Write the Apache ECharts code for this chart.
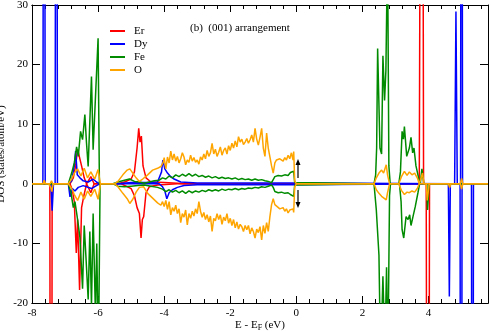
<!DOCTYPE html>
<html>
<head>
<meta charset="utf-8">
<script src="https://cdn.jsdelivr.net/npm/echarts@6/dist/echarts.min.js"></script>
<style>
  html, body { margin: 0; padding: 0; background: #fff; }
  #chart { width: 491px; height: 332px; }
</style>
</head>
<body>
<div id="chart"></div>
<script>
// species shown in the legend
const species = ['Er', 'Dy', 'Fe', 'O'];
const colors = ['#ff0000', '#0000ff', '#008b00', '#ffa500'];

const xTicks = [-8, -6, -4, -2, 0, 2, 4];
const yTicks = [-20, -10, 0, 10, 20, 30];

// [E - EF (eV), DOS] pairs, spin up (positive) and spin down (negative)
const erUp = [[-8,0],[-6.85,0],[-6.75,1],[-6.68,3],[-6.62,5.8],[-6.57,5.5],[-6.5,3],[-6.42,1],[-6.35,0],[-6.22,1.2],[-6.12,0],
  [-5.4,0],[-5.2,0.3],[-5.0,0.8],[-4.9,2],[-4.82,6],[-4.77,9.3],[-4.73,7],[-4.69,8],[-4.64,3],[-4.55,1],[-4.4,0.3],[-4.0,0.2],[-3.6,0.1],[-3.4,0],
  [3.72,0],[3.8,150],[3.85,0],[5.8,0]];
const erDn = [[-8,0],[-7.46,0],[-7.425,-150],[-7.39,0],[-6.85,0],[-6.78,-1],[-6.72,-3],[-6.66,-11.6],[-6.62,-6],[-6.56,-17.8],[-6.5,-4],[-6.43,-2],[-6.35,0],[-6.22,-1.5],[-6.12,0],
  [-5.3,0],[-5.0,-0.8],[-4.9,-2],[-4.82,-4],[-4.75,-5],[-4.7,-9.1],[-4.66,-6],[-4.62,-5.5],[-4.55,-1.5],[-4.45,-0.5],[-4.2,-0.2],[-3.6,0],
  [3.93,0],[3.985,-150],[4.03,0],[5.8,0]];
const dyUp = [[-8,0],[-7.67,0],[-7.635,150],[-7.6,0],[-7.3,0],[-7.265,150],[-7.23,0],[-6.9,0],[-6.8,0.5],[-6.72,3],[-6.68,5.5],[-6.63,1.5],[-6.55,1],[-6.45,0.5],[-6.3,0.3],[-6.15,0.8],[-6.05,0.3],[-5.95,0],
  [-5.4,0],[-5.0,0.2],[-4.5,0.2],[-4.2,0.3],[-4.08,2],[-4.04,4],[-3.98,2.5],[-3.9,1.8],[-3.8,1.2],[-3.7,0.8],[-3.5,0.3],[-3.0,0.15],[-0.05,0.15],[0,0],
  [4.79,0],[4.83,28.9],[4.87,0],[4.97,0],[5.0,150],[5.03,0],[5.8,0]];
const dyDn = [[-8,0],[-7.43,0],[-7.39,-4.5],[-7.35,0],[-6.9,0],[-6.85,-2.2],[-6.78,-0.8],[-6.7,-1.2],[-6.6,-0.6],[-6.45,-0.3],[-6.2,-0.8],[-6.05,-0.3],[-5.95,0],
  [-4.15,0],[-4.05,-0.5],[-3.98,-1.2],[-3.92,-2.5],[-3.85,-1.5],[-3.75,-1],[-3.6,-0.6],[-3.4,-0.3],[-3.0,-0.15],[-0.05,-0.15],[0,0],
  [4.6,0],[4.63,-18.9],[4.66,0],[4.955,0],[4.985,-150],[5.015,0],[5.3,0],[5.33,-150],[5.36,0],[5.8,0]];
const feUp = [[-8,0],[-6.9,0],[-6.8,1.8],[-6.72,3.5],[-6.65,6.2],[-6.6,4.6],[-6.53,8.8],[-6.47,7.4],[-6.4,11.6],[-6.35,6.8],[-6.3,2.9],[-6.2,18],[-6.15,5.7],[-6.0,24.4],[-5.96,0],
  [-5.55,0],[-5.4,0.3],[-5.2,0.6],[-5.05,0.8],[-4.9,0.4],[-4.75,0.3],[-4.6,0.1],[-4.45,0.3],[-4.3,0.5],[-4.15,0.6],[-4.05,1.0],[-3.95,0.8],[-3.85,1.3],[-3.75,1.0],[-3.65,1.5],[-3.55,1.2],[-3.45,1.6],[-3.35,1.3],[-3.25,1.7],[-3.15,1.3],[-3.05,1.6],[-2.95,1.2],[-2.85,1.4],[-2.75,1.1],[-2.65,1.3],[-2.55,1.0],[-2.45,1.2],[-2.35,0.9],[-2.25,1.1],[-2.15,0.9],[-2.05,1.0],[-1.95,0.8],[-1.85,1.0],[-1.75,0.7],[-1.65,0.9],[-1.55,0.7],[-1.45,0.8],[-1.35,0.6],[-1.25,0.8],[-1.15,0.6],[-1.05,0.7],[-0.95,0.5],[-0.85,0.4],[-0.75,0.2],[-0.7,0.5],[-0.65,1.2],[-0.55,1.4],[-0.45,1.3],[-0.35,1.5],[-0.25,1.4],[-0.18,1.9],[-0.12,1.6],[-0.08,2.1],[-0.05,0.2],[0,0],
  [2.35,0],[2.4,1.5],[2.43,6],[2.46,22.7],[2.53,6],[2.58,5],[2.62,21.5],[2.67,14],[2.71,19],[2.76,40],[2.8,3],[2.84,0],
  [3.1,0],[3.15,2],[3.2,8.8],[3.24,7.5],[3.27,9.6],[3.34,4.6],[3.42,6],[3.47,7.8],[3.52,5.2],[3.56,6],[3.62,3],[3.7,1],[3.75,0],[3.8,2.5],[3.86,0],[5.8,0]];
const feDn = [[-8,0],[-6.9,0],[-6.82,-1.5],[-6.75,-4],[-6.7,-3],[-6.62,-6],[-6.55,-9],[-6.47,-17.6],[-6.42,-7],[-6.37,-12],[-6.3,-19.4],[-6.25,-8],[-6.2,-20.5],[-6.15,-5],[-6.08,-22],[-6.04,-10],[-5.99,-30],[-5.94,0],
  [-5.55,0],[-5.4,-0.4],[-5.2,-0.5],[-5.0,-0.4],[-4.8,-0.3],[-4.6,-0.2],[-4.4,-0.4],[-4.2,-0.6],[-4.05,-0.9],[-3.95,-1.3],[-3.85,-1.0],[-3.75,-1.4],[-3.65,-1.1],[-3.55,-1.5],[-3.45,-1.2],[-3.35,-1.6],[-3.25,-1.2],[-3.15,-1.5],[-3.05,-1.2],[-2.95,-1.4],[-2.85,-1.1],[-2.75,-1.3],[-2.65,-1.0],[-2.55,-1.2],[-2.45,-1.0],[-2.35,-1.2],[-2.25,-0.9],[-2.15,-1.1],[-2.05,-0.9],[-1.95,-1.0],[-1.85,-0.8],[-1.75,-1.0],[-1.65,-0.8],[-1.55,-0.9],[-1.45,-0.7],[-1.35,-0.8],[-1.25,-0.6],[-1.15,-0.7],[-1.05,-0.5],[-0.95,-0.6],[-0.85,-0.4],[-0.75,-0.2],[-0.7,-0.6],[-0.65,-1.3],[-0.55,-1.5],[-0.45,-1.4],[-0.35,-1.6],[-0.25,-1.5],[-0.18,-1.8],[-0.12,-1.6],[-0.08,-2.1],[-0.05,-0.2],[0,0],
  [2.35,0],[2.42,-4.4],[2.5,-12],[2.55,-30],[2.62,-15.5],[2.68,-28],[2.73,-14],[2.77,-30],[2.82,-2],[2.85,0],
  [3.12,0],[3.17,-3],[3.2,-7.7],[3.25,-9.1],[3.32,-5.5],[3.38,-6],[3.43,-5.2],[3.47,-7],[3.53,-5.5],[3.6,-3.8],[3.68,-1.5],[3.73,0],
  [3.95,0],[3.97,-4.4],[4.0,-4.4],[4.02,0],[5.8,0]];
const oUp = [[-8,0],[-7.67,0],[-7.63,0.6],[-7.59,0],[-7.45,0],[-7.41,0.5],[-7.37,0],[-6.9,0],[-6.8,0.8],[-6.72,1.8],[-6.62,2.5],[-6.52,1.3],[-6.42,2.6],[-6.32,1.0],[-6.22,2.0],[-6.1,0.8],[-6.0,2.4],[-5.93,0],
  [-5.5,0],[-5.4,0.4],[-5.25,1.5],[-5.12,2.3],[-5.04,2.5],[-4.95,1.8],[-4.85,1.0],[-4.75,0.4],[-4.65,0.8],[-4.5,1.5],[-4.35,2.3],[-4.2,2.6],[-4.1,2.9],[-4.03,3.6],[-4.0,4.4],
  [-3.95,2.5],[-3.9,4.5],[-3.85,3.5],[-3.8,5.5],[-3.75,4.0],[-3.7,5.0],[-3.65,3.8],[-3.6,4.6],[-3.55,3.5],[-3.5,4.2],[-3.45,5.2],[-3.4,4.5],[-3.35,3.2],[-3.3,4.0],[-3.25,3.6],[-3.2,4.8],[-3.15,3.8],[-3.1,4.4],[-3.05,3.6],[-3.0,4.0],
  [-2.95,3.3],[-2.9,4.5],[-2.85,4.0],[-2.8,5.0],[-2.75,4.2],[-2.7,5.6],[-2.65,4.6],[-2.6,5.2],[-2.55,6.8],[-2.5,5.0],[-2.45,5.8],[-2.4,4.6],[-2.35,5.3],[-2.3,6.2],[-2.25,4.8],[-2.2,5.6],[-2.15,6.0],[-2.1,5.0],[-2.05,6.4],[-2.0,5.6],
  [-1.95,6.8],[-1.9,6.0],[-1.85,7.2],[-1.8,6.2],[-1.75,7.9],[-1.7,7.0],[-1.65,7.5],[-1.6,6.6],[-1.55,7.0],[-1.5,7.6],[-1.45,6.8],[-1.4,7.4],[-1.35,8.2],[-1.3,7.0],[-1.25,9.3],[-1.2,7.5],[-1.15,6.5],[-1.1,7.8],[-1.05,9.3],[-1.0,6.0],
  [-0.95,4.6],[-0.9,8.5],[-0.85,6.0],[-0.8,4.5],[-0.75,3.0],[-0.7,1.8],[-0.65,3.5],[-0.6,4.0],[-0.5,4.2],[-0.4,3.8],[-0.35,4.4],[-0.3,4.0],[-0.25,4.8],[-0.2,4.2],[-0.15,5.2],[-0.1,4.0],[-0.08,5.4],[-0.05,0.5],[0,0],
  [2.35,0],[2.42,1.0],[2.5,1.8],[2.58,2.3],[2.64,1.8],[2.72,3.2],[2.76,1.5],[2.82,0],
  [3.1,0],[3.18,1.2],[3.27,2.1],[3.35,1.4],[3.42,2.0],[3.5,1.5],[3.58,1.8],[3.66,1.0],[3.72,0],[3.78,0],[3.82,1.8],[3.86,0],
  [4.96,0],[5.0,0.9],[5.04,0],[5.8,0]];
const oDn = [[-8,0],[-7.5,0],[-7.44,-0.5],[-7.4,-1.3],[-7.36,0],[-6.9,0],[-6.8,-0.8],[-6.72,-1.8],[-6.62,-2.8],[-6.52,-1.4],[-6.42,-2.6],[-6.32,-1.2],[-6.22,-2.1],[-6.1,-0.9],[-6.0,-2.6],[-5.93,0],
  [-5.5,0],[-5.4,-0.5],[-5.25,-1.6],[-5.12,-2.5],[-5.04,-3.3],[-4.95,-2.6],[-4.85,-1.4],[-4.75,-0.6],[-4.62,-0.5],[-4.5,-1.6],[-4.35,-2.4],[-4.2,-3.2],[-4.1,-3.6],[-4.05,-3.0],[-4.0,-3.8],
  [-3.95,-2.8],[-3.9,-4.3],[-3.85,-3.0],[-3.8,-5.2],[-3.75,-4.0],[-3.7,-4.6],[-3.65,-3.6],[-3.6,-5.0],[-3.55,-4.2],[-3.5,-6.5],[-3.45,-5.0],[-3.4,-5.6],[-3.35,-4.4],[-3.3,-6.9],[-3.25,-5.0],[-3.2,-5.8],[-3.15,-4.6],[-3.1,-5.4],[-3.05,-4.2],[-3.0,-5.0],
  [-2.95,-3.0],[-2.9,-4.6],[-2.85,-5.6],[-2.8,-4.8],[-2.75,-6.0],[-2.7,-5.2],[-2.65,-6.4],[-2.6,-5.4],[-2.55,-8.0],[-2.5,-5.8],[-2.45,-6.2],[-2.4,-5.0],[-2.35,-6.0],[-2.3,-5.2],[-2.25,-6.8],[-2.2,-5.6],[-2.15,-6.2],[-2.1,-5.0],[-2.05,-6.6],[-2.0,-5.8],
  [-1.95,-7.0],[-1.9,-6.0],[-1.85,-7.4],[-1.8,-6.4],[-1.75,-7.6],[-1.7,-6.8],[-1.65,-7.2],[-1.6,-8.0],[-1.55,-7.0],[-1.5,-7.7],[-1.45,-7.0],[-1.4,-8.4],[-1.35,-7.4],[-1.3,-8.0],[-1.25,-9.1],[-1.2,-7.6],[-1.15,-8.2],[-1.1,-7.2],[-1.05,-9.4],[-1.0,-7.0],
  [-0.95,-8.3],[-0.9,-6.5],[-0.85,-8.0],[-0.8,-5.5],[-0.75,-3.5],[-0.7,-2.5],[-0.65,-3.5],[-0.6,-3.8],[-0.5,-4.2],[-0.4,-4.0],[-0.35,-4.6],[-0.3,-4.2],[-0.25,-4.9],[-0.2,-4.4],[-0.15,-4.6],[-0.1,-4.2],[-0.08,-4.8],[-0.05,-0.5],[0,0],
  [2.35,0],[2.42,-1.0],[2.5,-1.6],[2.58,-2.1],[2.64,-1.8],[2.72,-2.7],[2.76,-1.5],[2.82,0],
  [3.1,0],[3.18,-1.1],[3.27,-1.8],[3.35,-1.4],[3.42,-1.5],[3.5,-1.2],[3.58,-1.4],[3.66,-0.8],[3.72,0],
  [3.93,0],[3.96,-2.8],[4.0,-2.7],[4.02,0],[4.6,0],[4.64,-0.6],[4.68,0],[4.96,0],[5.0,-0.9],[5.04,0],[5.8,0]];

const seriesData = [[erUp, erDn], [dyUp, dyDn], [feUp, feDn], [oUp, oDn]];

const FONT = 'Liberation Serif';

const series = [];
species.forEach((name, i) => {
    seriesData[i].forEach(data => {
        series.push({
            name: name,
            type: 'line',
            data: data,
            symbol: 'none',
            animation: false,
            color: colors[i],
            lineStyle: { width: 1.5, color: colors[i] }
        });
    });
});

const axisLine = { show: true, onZero: false, lineStyle: { color: '#000', width: 1 } };

function xAxis(position, interval, len, labels) {
    return {
        type: 'value',
        position: position,
        min: xTicks[0],
        max: 5.8,
        interval: interval,
        axisLine: axisLine,
        axisTick: { show: true, inside: true, length: len, lineStyle: { color: '#000' } },
        axisLabel: labels ? {
            show: true,
            showMaxLabel: false,
            margin: 5,
            color: '#000',
            fontFamily: FONT,
            fontSize: 11,
            formatter: v => xTicks.indexOf(v) >= 0 ? String(v) : ''
        } : { show: false },
        splitLine: { show: false }
    };
}

function yAxis(position, labels) {
    return {
        type: 'value',
        position: position,
        min: yTicks[0],
        max: yTicks[yTicks.length - 1],
        interval: 10,
        axisLine: axisLine,
        axisTick: { show: true, inside: true, length: 8, lineStyle: { color: '#000' } },
        axisLabel: labels ? { show: true, margin: 4, color: '#000', fontFamily: FONT, fontSize: 11 } : { show: false },
        splitLine: { show: false }
    };
}

const xMain = xAxis('bottom', 2, 7, true);
xMain.name = '{a|E - E}{s|F}{a| (eV)}';
xMain.nameLocation = 'middle';
xMain.nameGap = 15;
xMain.nameMoveOverlap = false;
xMain.nameTextStyle = {
    verticalAlign: 'top',
    rich: {
        a: { fontFamily: FONT, fontSize: 11, color: '#000' },
        s: { fontFamily: FONT, fontSize: 8, color: '#000', padding: [6, 0, 0, 0] }
    }
};

const yMain = yAxis('left', true);
yMain.name = 'DOS (states/atom/eV)';
yMain.nameLocation = 'middle';
yMain.nameGap = 25;
yMain.nameMoveOverlap = false;
yMain.nameTextStyle = { fontFamily: FONT, fontSize: 11, color: '#000' };

const chart = echarts.init(document.getElementById('chart'));
chart.setOption({
    animation: false,
    backgroundColor: '#fff',
    grid: { left: 32, right: 3, top: 5, bottom: 29, containLabel: false, outerBoundsMode: 'none' },
    xAxis: [xMain, xAxis('bottom', 0.4, 4, false), xAxis('top', 2, 7, false), xAxis('top', 0.4, 4, false)],
    yAxis: [yMain, yAxis('right', false)],
    legend: {
        data: species,
        orient: 'vertical',
        left: 105,
        top: 20,
        icon: 'rect',
        itemWidth: 15,
        itemHeight: 2,
        itemGap: 1,
        textStyle: { fontFamily: FONT, fontSize: 11, color: '#000', lineHeight: 12, padding: [0, 0, 0, 4] }
    },
    graphic: [
        { type: 'text', left: 190, top: 23, style: { text: '(b)  (001) arrangement', font: '11px "Liberation Serif"', fill: '#000' } },
        { type: 'line', shape: { x1: 298, y1: 178, x2: 298, y2: 163 }, style: { stroke: '#000', lineWidth: 1.2 } },
        { type: 'polygon', shape: { points: [[298, 159], [295.5, 165], [300.5, 165]] }, style: { fill: '#000' } },
        { type: 'line', shape: { x1: 298, y1: 190, x2: 298, y2: 204 }, style: { stroke: '#000', lineWidth: 1.2 } },
        { type: 'polygon', shape: { points: [[298, 208], [295.5, 202], [300.5, 202]] }, style: { fill: '#000' } }
    ],
    series: series
});
</script>
</body>
</html>
